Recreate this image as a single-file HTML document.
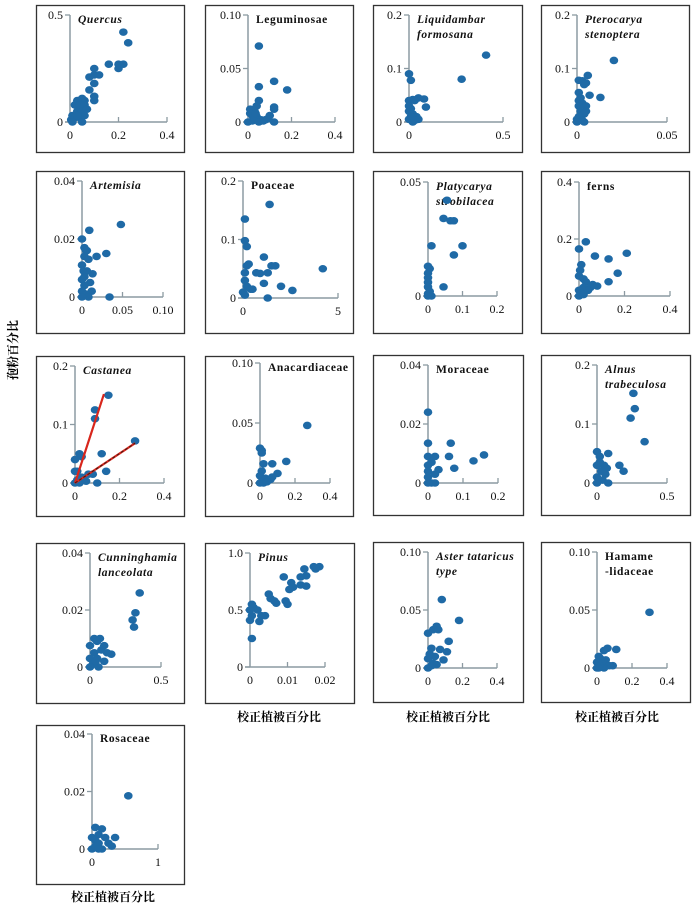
<!DOCTYPE html>
<html><head><meta charset="utf-8">
<style>
html,body{margin:0;padding:0;background:#fff;}
svg{display:block;}
text{font-family:"Liberation Serif","Noto Serif CJK SC",serif;}
</style></head>
<body>
<svg id="fig" width="700" height="906" viewBox="0 0 700 906">
<text x="17" y="350" font-size="12" font-weight="bold" transform="rotate(-90 17 350)" text-anchor="middle" font-family="'Liberation Serif','Noto Serif CJK SC',serif">孢粉百分比</text>
<text x="279" y="721" font-size="12" font-weight="bold" text-anchor="middle">校正植被百分比</text>
<text x="448" y="721" font-size="12" font-weight="bold" text-anchor="middle">校正植被百分比</text>
<text x="617" y="721" font-size="12" font-weight="bold" text-anchor="middle">校正植被百分比</text>
<text x="113" y="901" font-size="12" font-weight="bold" text-anchor="middle">校正植被百分比</text>
</svg>
<script>
const quercusX=[0.22,0.24,0.16,0.2,0.22,0.2,0.1,0.1,0.12,0.08,0.1,0.08,0.1,0.1,0.06,0.05,0.03,0.02,0.04,0.06,0.03,0.05,0.01,0.02,0.04,0.06,0.005,0.05,0.01,0.07,0.03];
const quercusY=[0.42,0.37,0.27,0.27,0.27,0.25,0.25,0.22,0.22,0.21,0.18,0.15,0.12,0.1,0.1,0.11,0.1,0.08,0.08,0.08,0.05,0.05,0.03,0.02,0.02,0.03,0.01,0.0,0.0,0.06,0.03];
const legumX=[0.05,0.12,0.18,0.05,0.05,0.12,0.12,0.04,0.03,0.01,0.02,0.04,0.1,0.09,0.08,0.06,0.0,0.02,0.03,0.05,0.12,0.07,0.01,0.035];
const legumY=[0.071,0.038,0.03,0.033,0.02,0.014,0.012,0.015,0.01,0.008,0.006,0.005,0.006,0.003,0.002,0.002,0.0,0.001,0.003,0.0,0.0,0.001,0.012,0.008];
const liquidX=[0.41,0.28,0,0.01,0.05,0.08,0.02,0.0,0.03,0.09,0.0,0.01,0.0,0.02,0.04,0.05,0.0,0.02,0.01,0.03];
const liquidY=[0.125,0.08,0.09,0.078,0.045,0.043,0.042,0.04,0.04,0.028,0.03,0.025,0.02,0.015,0.01,0.005,0.005,0.0,0.01,0.003];
const pteroX=[0.0205,0.006,0.001,0.003,0.005,0.004,0.007,0.013,0.001,0.002,0.001,0.003,0.005,0.001,0.002,0.004,0.001,0.0,0.003,0.004,0.0,0.005];
const pteroY=[0.115,0.087,0.078,0.077,0.073,0.07,0.05,0.046,0.055,0.045,0.04,0.035,0.03,0.03,0.02,0.015,0.01,0.005,0.003,0.0,0.0,0.02];
const artemX=[0.048,0.009,0.0,0.003,0.005,0.006,0.03,0.018,0.003,0.0,0.008,0.002,0.013,0.006,0.0,0.01,0.003,0.012,0.0,0.005,0.034,0.008,0.0,0.003];
const artemY=[0.025,0.023,0.02,0.017,0.016,0.016,0.015,0.014,0.014,0.011,0.013,0.009,0.008,0.009,0.006,0.005,0.004,0.002,0.002,0.001,0.0,0.0,0.0,0.007];
const poaceX=[1.4,0.1,0.1,0.2,4.2,1.1,1.5,1.7,0.2,0.3,0.7,0.9,1.3,0.1,0.1,1.1,2.0,2.6,1.3,0.2,0.0,0.4,0.5,0.1];
const poaceY=[0.16,0.135,0.098,0.088,0.05,0.07,0.055,0.055,0.055,0.058,0.043,0.042,0.043,0.043,0.03,0.025,0.02,0.013,0.0,0.02,0.01,0.015,0.015,0.005];
const platyX=[0.055,0.045,0.065,0.075,0.01,0.1,0.075,0.0,0.005,0.0,0.0,0.045,0.0,0.0,0.005,0.0,0.01,0.0];
const platyY=[0.042,0.034,0.033,0.033,0.022,0.022,0.018,0.013,0.012,0.01,0.008,0.004,0.006,0.004,0.002,0.001,0.0,0.0];
const fernsX=[0.03,0.0,0.07,0.13,0.21,0.17,0.13,0.01,0.005,0.0,0.02,0.03,0.06,0.08,0.05,0.02,0.0,0.01,0.04,0.0,0.02];
const fernsY=[0.19,0.165,0.14,0.13,0.15,0.08,0.05,0.11,0.09,0.07,0.06,0.05,0.04,0.035,0.03,0.03,0.02,0.01,0.02,0.0,0.005];
const castX=[0.15,0.09,0.09,0.27,0.12,0.02,0.03,0.0,0.0,0.14,0.08,0.06,0.1,0.03,0.01,0.04,0.0,0.02,0.05,0.01];
const castY=[0.15,0.125,0.11,0.072,0.05,0.05,0.045,0.04,0.02,0.02,0.015,0.015,0.0,0.01,0.005,0.005,0.0,0.0,0.003,0.02];
const castFitX1=[0,0.13], castFitY1=[0,0.152];
const castFitX2=[0,0.27], castFitY2=[0,0.068];
const anacX=[0.27,0.0,0.01,0.01,0.02,0.07,0.15,0.1,0.01,0.0,0.03,0.06,0.07,0.0,0.02,0.04];
const anacY=[0.048,0.029,0.027,0.025,0.016,0.016,0.018,0.008,0.01,0.006,0.004,0.003,0.005,0.0,0.0,0.001];
const moraX=[0.0,0.0,0.065,0.06,0.16,0.13,0.075,0.0,0.02,0.01,0.0,0.03,0.02,0.0,0.01,0.02,0.0,0.0];
const moraY=[0.024,0.0135,0.0135,0.009,0.0095,0.0075,0.005,0.009,0.009,0.007,0.006,0.0045,0.003,0.002,0.0,0.0,0.0,0.004];
const alnusX=[0.26,0.27,0.24,0.34,0.16,0.19,0.08,0.0,0.02,0.05,0.07,0.0,0.03,0.06,0.0,0.04,0.0,0.08,0.02];
const alnusY=[0.152,0.126,0.11,0.07,0.03,0.02,0.05,0.053,0.045,0.03,0.025,0.03,0.02,0.015,0.01,0.005,0.0,0.0,0.035];
const cunnX=[0.35,0.32,0.3,0.31,0.03,0.07,0.05,0.0,0.1,0.08,0.15,0.12,0.03,0.05,0.0,0.1,0.02,0.06,0.0,0.04];
const cunnY=[0.026,0.019,0.0165,0.014,0.01,0.01,0.009,0.0075,0.0075,0.006,0.0045,0.005,0.005,0.003,0.003,0.002,0.001,0.0,0.0,0.002];
const pinusX=[0.0185,0.017,0.0175,0.0145,0.015,0.0135,0.009,0.011,0.0115,0.0135,0.015,0.0105,0.005,0.0055,0.007,0.0065,0.0095,0.01,0.0005,0.001,0.002,0.0,0.0005,0.004,0.003,0.0,0.0025,0.0005];
const pinusY=[0.88,0.88,0.86,0.86,0.8,0.79,0.79,0.74,0.7,0.72,0.71,0.68,0.64,0.6,0.56,0.58,0.58,0.55,0.55,0.52,0.5,0.5,0.45,0.45,0.45,0.41,0.4,0.25];
const asterX=[0.08,0.18,0.03,0.05,0.06,0.0,0.12,0.11,0.02,0.07,0.04,0.0,0.09,0.03,0.0,0.05,0.02,0.01];
const asterY=[0.059,0.041,0.033,0.036,0.033,0.03,0.023,0.014,0.017,0.016,0.01,0.008,0.007,0.004,0.0,0.003,0.002,0.012];
const hamaX=[0.3,0.11,0.06,0.04,0.01,0.02,0.05,0.0,0.03,0.09,0.07,0.0,0.04,0.015,0.01];
const hamaY=[0.048,0.016,0.017,0.015,0.01,0.008,0.007,0.005,0.004,0.002,0.002,0.0,0.0,0.002,0.0];
const rosaX=[0.55,0.05,0.15,0.1,0.35,0.2,0.0,0.25,0.05,0.1,0.3,0.0,0.15,0.05,0.1];
const rosaY=[0.0185,0.0075,0.007,0.005,0.004,0.004,0.004,0.002,0.003,0.002,0.001,0.0,0.0,0.001,0.0];

const panels=[
 {id:'quercus',title:['Quercus'],it:true,box:[36,5,148,147],ax:70,top:15,zero:122,end:167,xmax:0.4,ymax:0.5,xt:['0','0.2','0.4'],yt:['0','0.5'],xs:quercusX,ys:quercusY},
 {id:'leguminosae',title:['Leguminosae'],it:false,box:[205,5,148,147],ax:248,top:15,zero:122,end:335,xmax:0.4,ymax:0.1,xt:['0','0.2','0.4'],yt:['0','0.05','0.10'],xs:legumX,ys:legumY},
 {id:'liquidambar',title:['Liquidambar','formosana'],it:true,box:[373,5,149,147],ax:409,top:15,zero:122,end:503,xmax:0.5,ymax:0.2,xt:['0','0.5'],yt:['0','0.1','0.2'],xs:liquidX,ys:liquidY},
 {id:'pterocarya',title:['Pterocarya','stenoptera'],it:true,box:[541,5,148,147],ax:577,top:15,zero:122,end:667,xmax:0.05,ymax:0.2,xt:['0','0.05'],yt:['0','0.1','0.2'],xs:pteroX,ys:pteroY},
 {id:'artemisia',title:['Artemisia'],it:true,box:[36,171,148,162],ax:82,top:181,zero:297,end:163,xmax:0.1,ymax:0.04,xt:['0','0.05','0.10'],yt:['0','0.02','0.04'],xs:artemX,ys:artemY},
 {id:'poaceae',title:['Poaceae'],it:false,box:[205,171,148,162],ax:243,top:181,zero:298,end:338,xmax:5,ymax:0.2,xt:['0','5'],yt:['0','0.1','0.2'],xs:poaceX,ys:poaceY},
 {id:'platycarya',title:['Platycarya','strobilacea'],it:true,box:[373,171,149,162],ax:428,top:182,zero:296,end:497,xmax:0.2,ymax:0.05,xt:['0','0.1','0.2'],yt:['0','0.05'],xs:platyX,ys:platyY},
 {id:'ferns',title:['ferns'],it:false,box:[541,171,148,162],ax:579,top:182,zero:296,end:670,xmax:0.4,ymax:0.4,xt:['0','0.2','0.4'],yt:['0','0.2','0.4'],xs:fernsX,ys:fernsY},
 {id:'castanea',title:['Castanea'],it:true,box:[36,356,148,160],ax:75,top:366,zero:483,end:164,xmax:0.4,ymax:0.2,xt:['0','0.2','0.4'],yt:['0','0.1','0.2'],xs:castX,ys:castY,fit:true},
 {id:'anacardiaceae',title:['Anacardiaceae'],it:false,box:[205,356,148,160],ax:260,top:363,zero:483,end:330,xmax:0.4,ymax:0.1,xt:['0','0.2','0.4'],yt:['0','0.05','0.10'],xs:anacX,ys:anacY},
 {id:'moraceae',title:['Moraceae'],it:false,box:[373,355,150,160],ax:428,top:365,zero:483,end:498,xmax:0.2,ymax:0.04,xt:['0','0.1','0.2'],yt:['0','0.02','0.04'],xs:moraX,ys:moraY},
 {id:'alnus',title:['Alnus','trabeculosa'],it:true,box:[541,355,149,160],ax:597,top:365,zero:483,end:667,xmax:0.5,ymax:0.2,xt:['0','0.5'],yt:['0','0.1','0.2'],xs:alnusX,ys:alnusY},
 {id:'cunninghamia',title:['Cunninghamia','lanceolata'],it:true,box:[36,543,148,160],ax:90,top:553,zero:667,end:161,xmax:0.5,ymax:0.04,xt:['0','0.5'],yt:['0','0.02','0.04'],xs:cunnX,ys:cunnY},
 {id:'pinus',title:['Pinus'],it:true,box:[205,543,149,160],ax:250,top:553,zero:667,end:325,xmax:0.02,ymax:1.0,xt:['0','0.01','0.02'],yt:['0','0.5','1.0'],xs:pinusX,ys:pinusY},
 {id:'aster',title:['Aster tataricus','type'],it:true,box:[373,542,150,160],ax:428,top:552,zero:668,end:497,xmax:0.4,ymax:0.1,xt:['0','0.2','0.4'],yt:['0','0.05','0.10'],xs:asterX,ys:asterY},
 {id:'hamamelidaceae',title:['Hamame','-lidaceae'],it:false,box:[541,542,149,160],ax:597,top:552,zero:668,end:667,xmax:0.4,ymax:0.1,xt:['0','0.2','0.4'],yt:['0','0.05','0.10'],xs:hamaX,ys:hamaY},
 {id:'rosaceae',title:['Rosaceae'],it:false,box:[36,725,148,159],ax:92,top:734,zero:849,end:158,xmax:1,ymax:0.04,xt:['0','1'],yt:['0','0.02','0.04'],xs:rosaX,ys:rosaY}
];
const NS='http://www.w3.org/2000/svg';
const svg=document.getElementById('fig');
function mk(tag,attrs,parent){const e=document.createElementNS(NS,tag);for(const k in attrs)e.setAttribute(k,attrs[k]);parent.appendChild(e);return e;}
panels.forEach(p=>{
  const g=mk('g',{},svg);
  
  
  const b=mk('rect',{x:p.box[0]+0.5,y:p.box[1]+0.5,width:p.box[2],height:p.box[3],fill:'none',stroke:'#333',"stroke-width":1.3},g);
  
  
  const sx=v=>p.ax+v/p.xmax*(p.end-p.ax);
  const sy=v=>p.zero-v/p.ymax*(p.zero-p.top);
  const axc='#8c9aa2';
  const ya=mk('line',{x1:p.ax,y1:p.top,x2:p.ax,y2:p.zero,stroke:axc,"stroke-width":1.5},g);
  
  
  const xa=mk('line',{x1:p.ax-5,y1:p.zero,x2:p.end,y2:p.zero,stroke:axc,"stroke-width":1.5},g);
  
  
  p.yt.forEach((t,i)=>{
    const v=parseFloat(t), y=sy(v);
    mk('line',{x1:p.ax-5,y1:y,x2:p.ax,y2:y,stroke:axc,"stroke-width":1.3},g);
    const tx=mk('text',{x:p.ax-7,y:y+4,"font-size":12,"text-anchor":"end",fill:'#111'},g);
    tx.textContent=t;
    
    
  });
  p.xt.forEach((t,i)=>{
    const v=parseFloat(t), x=sx(v);
    if(i>0) mk('line',{x1:x,y1:p.zero-5,x2:x,y2:p.zero,stroke:axc,"stroke-width":1.3},g);
    const tx=mk('text',{x:x,y:p.zero+17,"font-size":12,"text-anchor":"middle",fill:'#111'},g);
    tx.textContent=t;
    
    
  });
  p.title.forEach((line,i)=>{
    const tx=mk('text',{x:p.ax+8,y:p.top+8+i*15,"font-size":11.5,"font-weight":"bold","font-style":p.it?'italic':'normal',"letter-spacing":"0.6",fill:'#111'},g);
    tx.textContent=line;
    
    
  });
  p.xs.forEach((xv,i)=>{
    const d=mk('ellipse',{cx:sx(xv),cy:sy(p.ys[i]),rx:4.3,ry:3.8,fill:'#1f6aa6'},g);
    
    
  });
  if(p.fit){
    const l1=mk('line',{x1:sx(castFitX1[0]),y1:sy(castFitY1[0]),x2:sx(castFitX1[1]),y2:sy(castFitY1[1]),stroke:'#d8261c',"stroke-width":2.2},g);
    
    
    const l2=mk('line',{x1:sx(castFitX2[0]),y1:sy(castFitY2[0]),x2:sx(castFitX2[1]),y2:sy(castFitY2[1]),stroke:'#d8261c',"stroke-width":2.2},g);
    
    
    const l3=mk('line',{x1:sx(castFitX2[0]),y1:sy(castFitY2[0]),x2:sx(castFitX2[1]),y2:sy(castFitY2[1]),stroke:'#3a1a14',"stroke-width":1,"stroke-dasharray":"3 2"},g);
    
    
  }
});
</script>
</body></html>
